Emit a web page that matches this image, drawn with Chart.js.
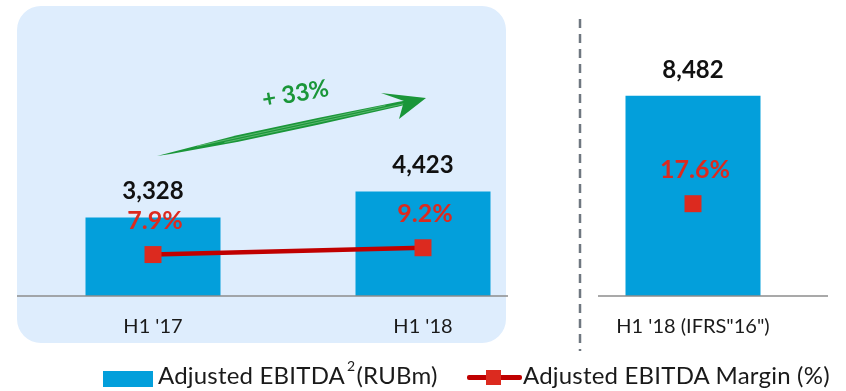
<!DOCTYPE html>
<html><head><meta charset="utf-8">
<script src="https://cdn.jsdelivr.net/npm/chart.js@4/dist/chart.umd.min.js"></script>
<style>
html,body{margin:0;padding:0;background:#fff;}
#wrap{position:relative;width:846px;height:391px;overflow:hidden;}
#c{position:absolute;left:0;top:0;}
.lg{position:absolute;font-family:Lato,sans-serif;font-size:24px;color:#1a1a1a;white-space:nowrap;line-height:26px;letter-spacing:0.2px;}
.lg sup{font-size:14px;vertical-align:0;position:relative;top:-13px;margin-left:2px;margin-right:1px;}
</style></head>
<body>
<div id="wrap">
<canvas id="c" width="846" height="391"></canvas>
<div style="position:absolute;left:103px;top:371px;width:50px;height:16px;background:#039fdb"></div>
<div class="lg" id="lg1" style="left:158px;top:362px;"></div>
<div style="position:absolute;left:467px;top:375px;width:55px;height:5px;background:#c00000;border-radius:2px"></div>
<div style="position:absolute;left:486px;top:370px;width:15px;height:15px;background:#dc2a1f"></div>
<div class="lg" id="lg2" style="left:523px;top:362px;"></div>
</div>
<script>
const categories = ["H1 '17", "H1 '18", "H1 '18 (IFRS\"16\")"];
const ebitda = [3328, 4423, 8482];
const margin = [7.9, 9.2, 17.6];
const ebitdaLabels = ["3,328", "4,423", "8,482"];
const marginLabels = ["7.9%", "9.2%", "17.6%"];
const growthLabel = "+ 33%";
const seriesNames = ["Adjusted EBITDA", "Adjusted EBITDA Margin (%)"];

document.getElementById('lg1').innerHTML = seriesNames[0] + '<sup>2</sup>(RUBm)';
document.getElementById('lg2').textContent = seriesNames[1];

const BLUE = '#039fdb', DARKRED = '#c00000', RED = '#dc2a1f', GREEN = '#1a9639';

const deco = {
  id: 'deco',
  beforeDraw(chart) {
    const ctx = chart.ctx;
    const x = chart.scales.x;
    const c0 = x.getPixelForValue(0), c1 = x.getPixelForValue(1);
    ctx.save();
    ctx.fillStyle = '#deedfd';
    ctx.beginPath();
    ctx.roundRect(c0 - 136, 6, (c1 + 83) - (c0 - 136), 337, 24);
    ctx.fill();
    ctx.restore();
  },
  afterDatasetsDraw(chart) {
    const ctx = chart.ctx;
    const x = chart.scales.x, y = chart.scales.y, y2 = chart.scales.y2, a = chart.chartArea;
    const c0 = x.getPixelForValue(0), c1 = x.getPixelForValue(1), c2 = x.getPixelForValue(2);
    const base = y.getPixelForValue(0);
    ctx.save();
    // baselines
    ctx.strokeStyle = '#8c8c8c'; ctx.lineWidth = 1.5;
    ctx.beginPath(); ctx.moveTo(c0 - 136, base); ctx.lineTo(c1 + 85, base); ctx.stroke();
    ctx.beginPath(); ctx.moveTo(c2 - 95, base); ctx.lineTo(a.right, base); ctx.stroke();
    // dashed divider
    ctx.strokeStyle = '#6f7780'; ctx.lineWidth = 2.5; ctx.setLineDash([9, 6]);
    const dx = (c1 + c2) / 2 + 22;
    ctx.beginPath(); ctx.moveTo(dx, 19); ctx.lineTo(dx, 351); ctx.stroke();
    ctx.setLineDash([]);
    // value labels
    ctx.textAlign = 'center'; ctx.textBaseline = 'middle';
    ctx.font = 'bold 24px Lato';
    ctx.fillStyle = '#111';
    ebitda.forEach((v, i) => {
      ctx.fillText(ebitdaLabels[i], x.getPixelForValue(i), y.getPixelForValue(v) - 26);
    });
    ctx.font = 'bold 25px Lato';
    ctx.fillStyle = RED;
    margin.forEach((v, i) => {
      ctx.fillText(marginLabels[i], x.getPixelForValue(i) + 2, y2.getPixelForValue(v) - 34);
    });
    // growth arrow
    const tx = c0 + 4, ty = y.getPixelForValue(5930);
    const hx = c1 + 3, hy = y.getPixelForValue(8390);
    const ddx = hx - tx, ddy = hy - ty, L = Math.hypot(ddx, ddy);
    const ux = ddx / L, uy = ddy / L, nx = -uy, ny = ux;
    const P = (t, w) => [tx + ux * t * L + nx * w, ty + uy * t * L + ny * w];
    ctx.fillStyle = GREEN;
    ctx.beginPath();
    let p = P(0, 0); ctx.moveTo(p[0], p[1]);
    [[0.3, -3.5], [0.6, -3.2], [0.9, -2.2], [0.98, -1.2]].forEach(q => { p = P(q[0], q[1]); ctx.lineTo(p[0], p[1]); });
    [[0.98, 1.5], [0.9, 2.4], [0.6, 3.4], [0.3, 3.2], [0.05, 0.8]].forEach(q => { p = P(q[0], q[1]); ctx.lineTo(p[0], p[1]); });
    ctx.closePath(); ctx.fill();
    // brush streaks
    ctx.strokeStyle = 'rgba(140,210,150,0.7)'; ctx.lineWidth = 0.8;
    [[-1.2, 0.15, 0.85], [1.0, 0.25, 0.95]].forEach(s => {
      const a1 = P(s[1], s[0]), a2 = P(s[2], s[0]);
      ctx.beginPath(); ctx.moveTo(a1[0], a1[1]); ctx.lineTo(a2[0], a2[1]); ctx.stroke();
    });
    // head
    ctx.fillStyle = GREEN;
    ctx.beginPath();
    ctx.moveTo(hx, hy);
    ctx.lineTo(hx - 45, hy - 5);
    ctx.lineTo(hx - 22, hy + 3);
    ctx.lineTo(hx - 27, hy + 21);
    ctx.closePath(); ctx.fill();
    // growth text
    ctx.save();
    ctx.translate((tx + hx) / 2 + 4, (ty + hy) / 2 - 33);
    ctx.rotate(-0.18);
    ctx.font = 'bold 24px Lato';
    ctx.fillStyle = GREEN;
    ctx.fillText(growthLabel, 0, 0);
    ctx.restore();
    ctx.restore();
  }
};

new Chart(document.getElementById('c'), {
  type: 'bar',
  data: {
    labels: categories,
    datasets: [
      {
        type: 'line', label: seriesNames[1], data: margin, yAxisID: 'y2', order: 0,
        borderColor: DARKRED, borderWidth: 4.5,
        segment: { borderColor: c => c.p1DataIndex === 2 ? 'rgba(0,0,0,0)' : DARKRED },
        pointStyle: 'rect', pointRadius: 12, pointHoverRadius: 12,
        pointBackgroundColor: RED, pointBorderWidth: 0
      },
      {
        label: seriesNames[0], data: ebitda, yAxisID: 'y', order: 1,
        backgroundColor: BLUE, categoryPercentage: 1, barPercentage: 0.5
      }
    ]
  },
  options: {
    responsive: false, animation: false,
    layout: { padding: { left: 18, right: 18, top: 60, bottom: 0 } },
    plugins: { legend: { display: false }, tooltip: { enabled: false } },
    scales: {
      x: {
        grid: { display: false, drawTicks: false }, border: { display: false },
        ticks: { font: { family: 'Lato', size: 20 }, color: '#1a1a1a', padding: 19 },
        afterFit: s => { s.height = 95; }
      },
      y: { display: false, min: 0, max: 10000 },
      y2: { display: false, min: 0, max: 45 }
    }
  },
  plugins: [deco]
});
</script>
</body></html>
